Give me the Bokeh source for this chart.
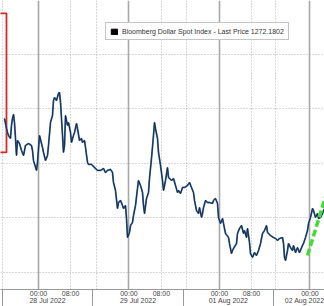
from bokeh.plotting import figure
from bokeh.models import FixedTicker, Grid, LinearAxis, Range1d, Legend, LegendItem
from bokeh.embed import file_html
from bokeh.resources import INLINE

# trading-time position in hours from 28 Jul 2022 00:00 (weekend removed)
hours = [-9.02, -8.49, -8.22, -7.96, -7.43, -7.16, -6.90, -6.63, -6.37, -6.10,
         -5.84, -5.57, -5.04, -4.51, -3.98, -3.45, -2.65, -1.86, -1.59, -1.33,
         -0.53, -0.27, 0.27, 1.06, 1.33, 1.86, 2.39, 2.65, 3.18, 3.71,
         3.98, 4.24, 4.77, 5.31, 5.57, 5.84, 6.10, 6.37, 6.63, 6.90,
         7.16, 7.69, 7.96, 8.49, 8.75, 9.28, 9.55, 10.08, 10.34, 10.88,
         11.41, 11.67, 12.20, 12.47, 13.00, 13.26, 14.06, 15.12, 15.65, 16.45,
         17.24, 17.77, 18.30, 19.10, 19.63, 19.89, 20.42, 20.95, 21.22, 21.75,
         22.28, 22.55, 23.08, 23.34, 23.61, 24.14, 24.40, 24.93, 25.20, 25.73,
         26.26, 26.53, 27.06, 27.59, 27.85, 28.12, 28.65, 29.18, 29.44, 29.97,
         30.50, 30.77, 31.03, 31.56, 31.83, 32.36, 32.89, 33.16, 33.69, 34.22,
         34.48, 35.28, 35.81, 36.34, 36.87, 37.14, 37.67, 38.20, 38.73, 39.52,
         40.05, 40.58, 41.11, 41.38, 41.91, 42.44, 42.71, 43.24, 43.50, 43.77,
         44.30, 44.83, 45.36, 46.15, 46.42, 46.95, 47.48, 47.75, 48.28, 48.81,
         49.07, 49.60, 50.40, 50.66, 51.19, 51.46, 51.72, 52.52, 52.78, 53.32,
         53.85, 54.38, 54.64, 55.17, 55.44, 55.97, 56.23, 56.76, 57.29, 57.82,
         58.36, 58.89, 59.42, 59.95, 60.48, 60.74, 61.54, 62.33, 62.86, 63.39,
         63.93, 64.72, 64.99, 65.25, 65.52, 66.05, 66.31, 66.84, 67.37, 67.64,
         68.17, 68.70, 69.23, 70.03, 70.29, 70.82, 71.35, 71.62, 72.15, 72.68,
         72.94, 73.47, 74.01, 74.27, 74.80, 75.33, 75.60, 76.13]
price = [1284.13, 1283.21, 1282.84, 1282.57, 1282.29, 1283.49, 1284.13, 1284.50, 1283.76, 1282.29,
         1280.73, 1282.11, 1281.83, 1281.19, 1280.73, 1281.65, 1281.83, 1281.65, 1281.19, 1280.28,
         1279.36, 1280.09, 1282.57, 1281.47, 1281.01, 1280.28, 1280.73, 1281.65, 1283.76, 1284.40,
         1285.78, 1286.06, 1285.78, 1286.42, 1286.51, 1285.60, 1284.13, 1282.57, 1281.01, 1281.65,
         1284.40, 1283.49, 1283.76, 1282.84, 1281.93, 1282.57, 1282.84, 1283.67, 1283.21, 1282.11,
         1282.29, 1281.93, 1282.11, 1281.47, 1280.09, 1279.91, 1279.91, 1279.54, 1279.36, 1279.36,
         1279.54, 1279.17, 1279.36, 1279.45, 1279.17, 1278.26, 1277.52, 1275.87, 1276.42, 1276.61,
         1276.15, 1275.87, 1276.15, 1274.95, 1273.21, 1273.67, 1274.31, 1274.59, 1275.23, 1276.15,
         1277.71, 1278.44, 1277.98, 1277.34, 1276.15, 1275.41, 1276.79, 1277.34, 1278.62, 1280.46,
         1282.57, 1283.76, 1283.21, 1282.29, 1281.01, 1279.82, 1278.44, 1277.52, 1278.44, 1279.63,
         1278.72, 1278.44, 1278.62, 1277.98, 1277.34, 1277.52, 1277.25, 1277.80, 1277.80, 1277.98,
         1278.26, 1277.80, 1277.34, 1276.61, 1275.69, 1275.41, 1275.96, 1275.05, 1275.41, 1275.96,
         1276.61, 1276.42, 1276.42, 1276.33, 1276.61, 1276.79, 1276.33, 1275.05, 1274.50, 1274.95,
         1274.50, 1273.58, 1273.21, 1272.66, 1271.74, 1272.02, 1272.20, 1272.66, 1273.58, 1274.04,
         1274.31, 1273.58, 1273.85, 1273.21, 1274.04, 1272.75, 1271.74, 1271.38, 1271.83, 1271.56,
         1272.02, 1272.66, 1273.58, 1273.85, 1274.31, 1273.67, 1273.39, 1273.21, 1273.12, 1272.94,
         1273.12, 1273.21, 1272.66, 1271.38, 1271.10, 1272.02, 1272.66, 1272.29, 1272.02, 1272.48,
         1271.83, 1272.29, 1271.83, 1272.48, 1272.66, 1273.21, 1273.85, 1274.50, 1275.05, 1275.87,
         1275.69, 1275.05, 1275.41, 1274.95, 1275.05, 1275.41, 1275.69, 1275.96]

trend_hours = [71.35, 77.45]
trend_price = [1271.56, 1278.44]

solid_grid_hours = [0, 24, 48, 72]
dotted_grid_hours = [-9.5, 8.5, 15.4, 32.6, 39.3, 56.5, 62.9]
price_grid = [1270, 1275, 1280, 1285, 1290]

time_tick_hours = [0, 8.5, 24, 32.6, 48, 56.5, 72]
time_tick_labels = ["00:00", "08:00", "00:00", "08:00", "00:00", "08:00", "00:00"]
day_sep_hours = [-9.55, 14.32, 38.46, 62.33]
date_center_hours = [2.39, 26.4, 50.4, 74.3]
date_labels = ["28 Jul 2022", "29 Jul 2022", "01 Aug 2022", "02 Aug 2022"]

legend_label = "Bloomberg Dollar Spot Index - Last Price 1272.1802"

box_left, box_right, box_bottom, box_top = -14.0, -8.49, 1281.01, 1293.76

FONT = "Liberation Sans"

p = figure(width=324, height=306, x_range=Range1d(-10.08, 75.86),
           y_range=Range1d(1268.44, 1294.95),
           x_axis_location=None, y_axis_location=None,
           toolbar_location=None, output_backend="svg", min_border=0)
p.outline_line_color = None
p.background_fill_color = "white"
p.border_fill_color = "white"
for g in p.grid:
    g.visible = False

p.add_layout(Grid(dimension=1, ticker=FixedTicker(ticks=price_grid),
                  grid_line_color="#b0b0b0", grid_line_dash="1 2", grid_line_width=1))
p.add_layout(Grid(dimension=0, ticker=FixedTicker(ticks=dotted_grid_hours),
                  grid_line_color="#b0b0b0", grid_line_dash="1 2", grid_line_width=1))
p.add_layout(Grid(dimension=0, ticker=FixedTicker(ticks=solid_grid_hours),
                  grid_line_color="#a8a8a8", grid_line_width=1.6))

# one bottom axis: time labels on the first row, day labels on the second row
overrides = {h: s for h, s in zip(time_tick_hours, time_tick_labels)}
overrides.update({h: "\n" + s for h, s in zip(date_center_hours, date_labels)})
ax = LinearAxis(ticker=FixedTicker(ticks=time_tick_hours + date_center_hours,
                                   minor_ticks=day_sep_hours),
                major_label_overrides=overrides)
ax.axis_line_color = "#999999"
ax.major_tick_line_color = None
ax.major_tick_out = 0
ax.major_tick_in = 0
ax.minor_tick_line_color = "#999999"
ax.minor_tick_out = 0
ax.minor_tick_in = -17
ax.major_label_standoff = 0
ax.major_label_text_font = FONT
ax.major_label_text_font_size = "7px"
ax.major_label_text_color = "#444444"
ax.major_label_text_line_height = 1.05
p.add_layout(ax, "below")

p.quad(left=[box_left], right=[box_right], bottom=[box_bottom], top=[box_top],
       fill_color=None, line_color="#d42a2a", line_width=1.8)

p.line(hours, price, line_color="#3b6ea8", line_width=1.8)
p.line(hours, price, line_color="#141a2a", line_width=0.8)

p.line(trend_hours, trend_price, line_color="#44dd33", line_width=3.5, line_dash="7 3")

# legend swatch glyph kept outside the visible range
leg_r = p.quad(left=[-60], right=[-59], bottom=[1200], top=[1201],
               fill_color="black", line_color="black")
legend = Legend(items=[LegendItem(label=legend_label, renderers=[leg_r])],
                location=(105, 249))
legend.padding = 4
legend.margin = 0
legend.spacing = 0
legend.glyph_width = 8
legend.glyph_height = 7
legend.label_height = 8
legend.label_standoff = 4
legend.label_text_font = FONT
legend.label_text_font_size = "7px"
legend.label_text_color = "#333333"
legend.border_line_color = "#8a8a8a"
legend.border_line_width = 1
legend.background_fill_color = "white"
legend.background_fill_alpha = 1.0
p.add_layout(legend)

open("out.html", "w").write(file_html(p, INLINE))
